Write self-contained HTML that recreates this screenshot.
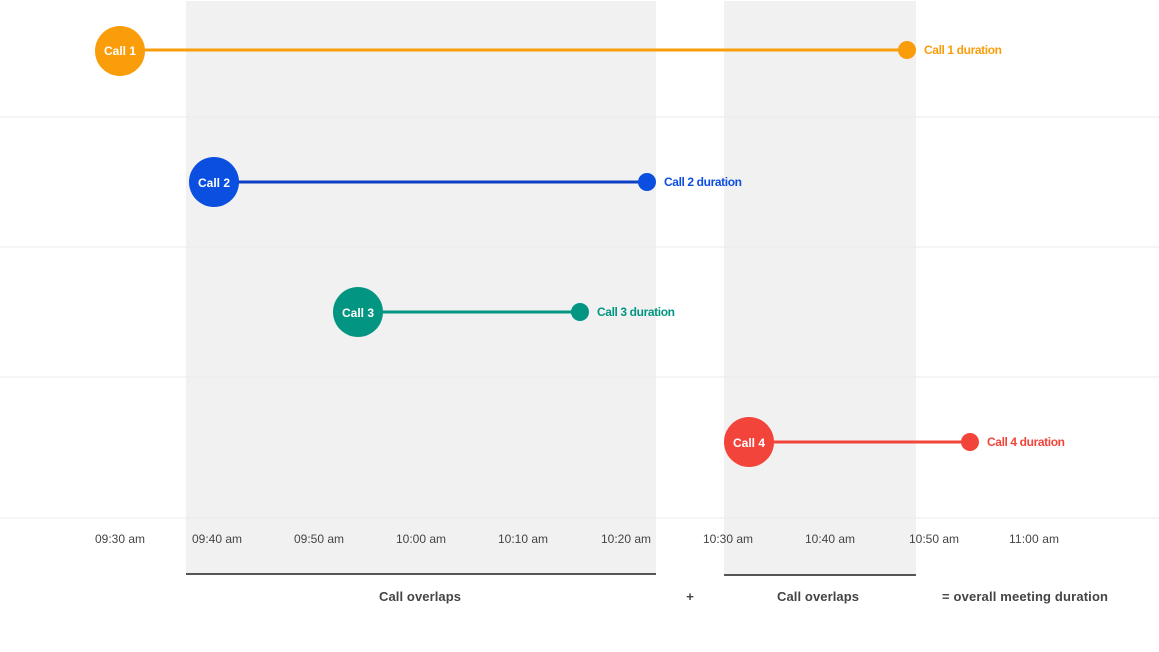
<!DOCTYPE html>
<html><head><style>
body{margin:0;background:#fff;}
svg{display:block;font-family:"Liberation Sans",sans-serif;}
</style></head><body>
<svg width="1159" height="652" viewBox="0 0 1159 652">
<rect x="186" y="1" width="470" height="573" fill="#f1f1f1"/>
<rect x="724" y="1" width="192" height="574" fill="#f1f1f1"/>
<g stroke="#ebebeb" stroke-width="1">
<line x1="0" y1="117" x2="1159" y2="117"/>
<line x1="0" y1="247" x2="1159" y2="247"/>
<line x1="0" y1="377" x2="1159" y2="377"/>
<line x1="0" y1="518" x2="1159" y2="518"/>
</g>
<line x1="186" y1="574" x2="656" y2="574" stroke="#555" stroke-width="2"/>
<line x1="724" y1="575" x2="916" y2="575" stroke="#555" stroke-width="2"/>
<g font-size="12" fill="#444" text-anchor="middle" textLength="50">
<text x="120" y="543" textLength="50">09:30 am</text><text x="217" y="543" textLength="50">09:40 am</text>
<text x="319" y="543" textLength="50">09:50 am</text><text x="421" y="543" textLength="50">10:00 am</text>
<text x="523" y="543" textLength="50">10:10 am</text><text x="626" y="543" textLength="50">10:20 am</text>
<text x="728" y="543" textLength="50">10:30 am</text><text x="830" y="543" textLength="50">10:40 am</text>
<text x="934" y="543" textLength="50">10:50 am</text><text x="1034" y="543" textLength="50">11:00 am</text>
</g>
<g font-size="13" font-weight="bold" fill="#444" text-anchor="middle">
<text x="420" y="601" textLength="82">Call overlaps</text>
<text x="690" y="601">+</text>
<text x="818" y="601" textLength="82">Call overlaps</text>
<text x="1025" y="601" textLength="166">= overall meeting duration</text>
</g>
<g font-size="12" font-weight="bold">
<line x1="120" y1="50" x2="907" y2="50" stroke="#f99d0b" stroke-width="3"/>
<circle cx="120" cy="51" r="25" fill="#f99d0b"/><circle cx="907" cy="50" r="9" fill="#f99d0b"/>
<text x="120" y="55" fill="#fff" text-anchor="middle" textLength="32">Call 1</text>
<text x="924" y="54" fill="#f99d0b" textLength="78">Call 1 duration</text>

<line x1="214" y1="182" x2="647" y2="182" stroke="#0b3fc4" stroke-width="3"/>
<circle cx="214" cy="182" r="25" fill="#0b4fe0"/><circle cx="647" cy="182" r="9" fill="#0b4fe0"/>
<text x="214" y="187" fill="#fff" text-anchor="middle" textLength="32">Call 2</text>
<text x="664" y="186" fill="#0b4fe0" textLength="78">Call 2 duration</text>

<line x1="358" y1="312" x2="580" y2="312" stroke="#029582" stroke-width="3"/>
<circle cx="358" cy="312" r="25" fill="#029582"/><circle cx="580" cy="312" r="9" fill="#029582"/>
<text x="358" y="317" fill="#fff" text-anchor="middle" textLength="32">Call 3</text>
<text x="597" y="316" fill="#029582" textLength="78">Call 3 duration</text>

<line x1="749" y1="442" x2="970" y2="442" stroke="#f2443a" stroke-width="3"/>
<circle cx="749" cy="442" r="25" fill="#f2443a"/><circle cx="970" cy="442" r="9" fill="#f2443a"/>
<text x="749" y="447" fill="#fff" text-anchor="middle" textLength="32">Call 4</text>
<text x="987" y="446" fill="#f2443a" textLength="78">Call 4 duration</text>
</g>
</svg>
</body></html>
